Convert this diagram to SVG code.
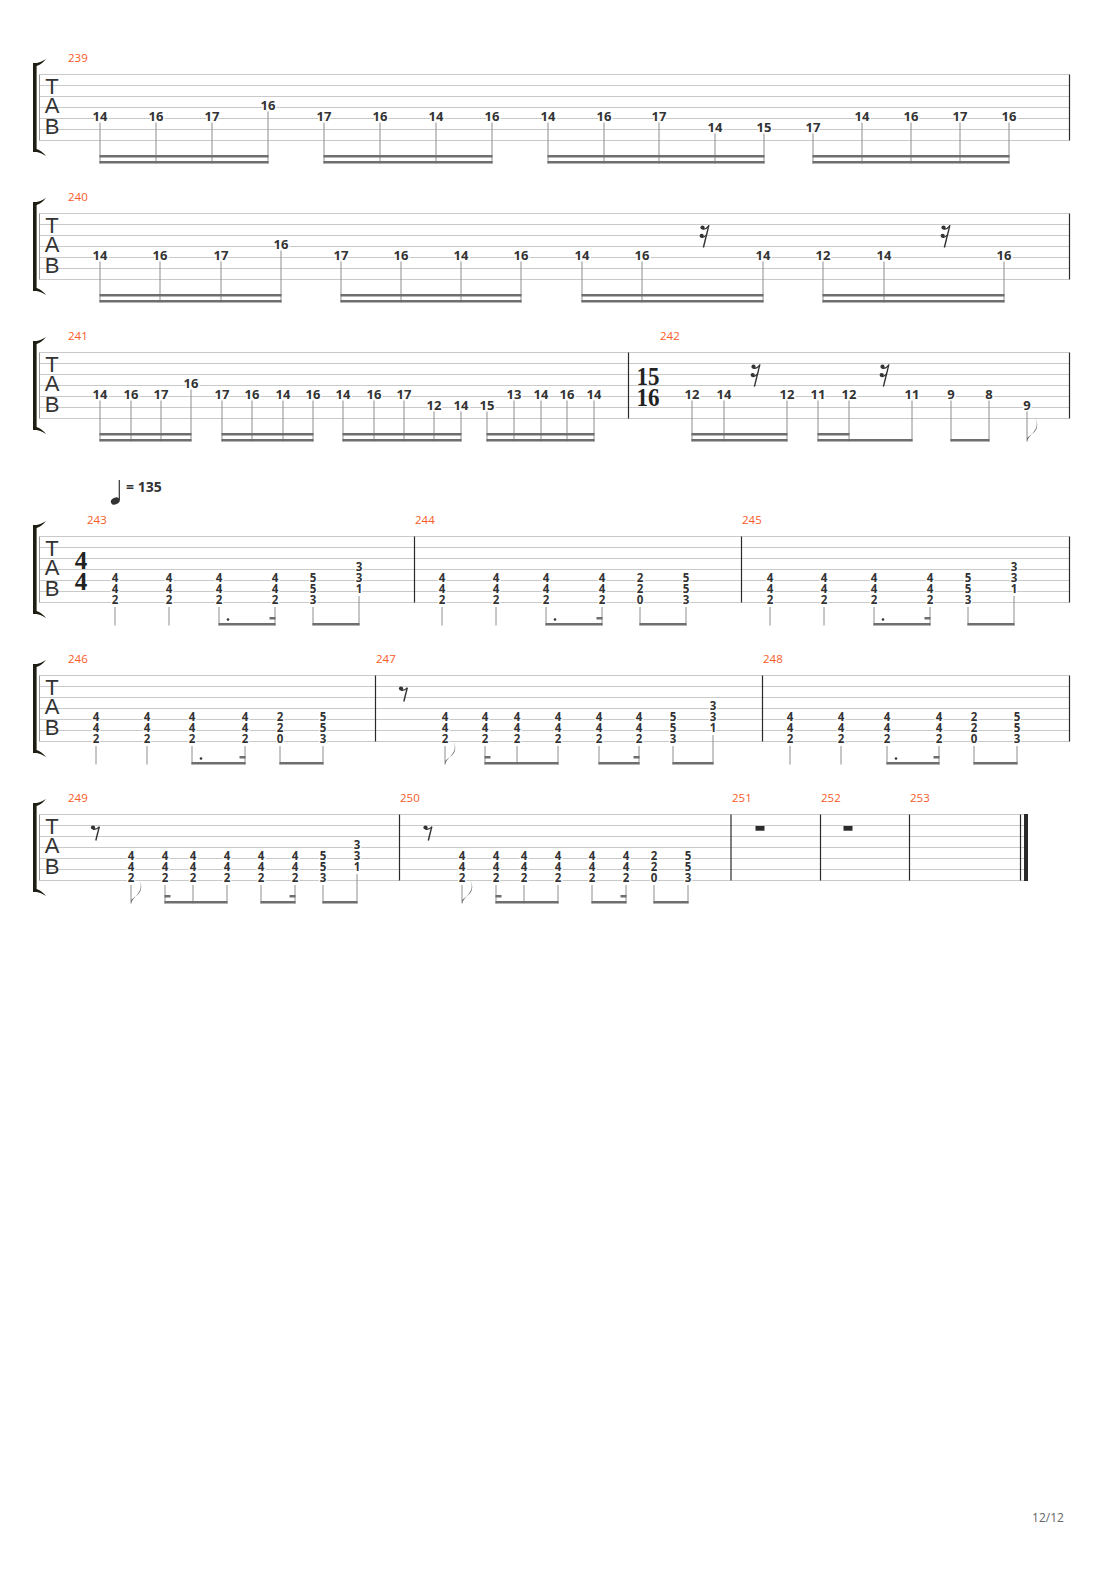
<svg xmlns="http://www.w3.org/2000/svg" xmlns:xlink="http://www.w3.org/1999/xlink" width="1110" height="1570" viewBox="0 0 1110 1570">
<style>
.sl{stroke:#c9c9c9;stroke-width:1;fill:none}
.lb{stroke:#9a9a9a;stroke-width:1}
.bar{stroke:#2a2a2a;stroke-width:1.2}
.st{stroke:#8e8e8e;stroke-width:1;fill:none}
.bm{stroke:#6e6e6e;stroke-width:2.5;fill:none}
.n{font-family:"Open Sans","DejaVu Sans",sans-serif;font-weight:700;font-size:13px;fill:#333;text-anchor:middle;stroke:#fff;stroke-width:3px;paint-order:stroke;stroke-linejoin:round}
.c{font-family:"Open Sans","DejaVu Sans",sans-serif;font-weight:700;font-size:11.5px;fill:#333;text-anchor:middle;stroke:#fff;stroke-width:2.5px;paint-order:stroke;stroke-linejoin:round}
.mn{font-family:"Open Sans","Liberation Sans",sans-serif;font-size:11.5px;fill:#f75b27}
.tab{font-family:"Liberation Sans",sans-serif;font-size:22px;fill:#333;text-anchor:middle}
.ts{font-family:"Liberation Serif",serif;font-weight:700;font-size:25px;fill:#222;text-anchor:middle}
.br{fill:#1e1e14}
.dot{fill:#333}
.pg{font-family:"Open Sans","Liberation Sans",sans-serif;font-size:12px;fill:#666;text-anchor:middle}
</style>
<defs>
<g id="lines"><path class="sl" d="M39.5,0H1069.5M39.5,11H1069.5M39.5,22H1069.5M39.5,33H1069.5M39.5,44H1069.5M39.5,55H1069.5M39.5,66H1069.5"/></g>
<g id="head">
<path class="lb" d="M39.5,0V66"/>
<rect class="br" x="33" y="-11.5" width="3.6" height="89"/>
<path class="br" d="M33,-11.5 L36.6,-11.5 Q40.5,-12 46,-15.5 Q41.5,-10 36.6,-8.5 L33,-8.5 Z"/>
<path class="br" d="M33,77.5 L36.6,77.5 Q40.5,78 46,81.5 Q41.5,76 36.6,74.5 L33,74.5 Z"/>
<text class="tab" x="52" y="19.5">T</text>
<text class="tab" x="52" y="38.5">A</text>
<text class="tab" x="52" y="59">B</text>
</g>
<g id="r8" fill="#333"><circle cx="0" cy="0" r="2.1"/><path d="M0,1.6 Q3.2,2.4 6.3,-0.6" fill="none" stroke="#333" stroke-width="1.3"/><path d="M6.3,-0.8 L2.8,13" stroke="#333" stroke-width="1.4"/></g>
<g id="r16" fill="#333"><circle cx="0" cy="0" r="2.1"/><circle cx="-0.8" cy="8.3" r="2.1"/><path d="M0,1.6 Q3.4,2.2 6.2,-1.6 M-0.8,9.9 Q2,10.4 4.2,7" fill="none" stroke="#333" stroke-width="1.2"/><path d="M6.4,-2.4 L0.9,20" stroke="#333" stroke-width="1.4"/></g>
<path id="flag" d="M0,0 C1.5,-5.5 8,-9 9.5,-15 C10.5,-19 9,-22.5 7,-25 C9.8,-21.5 11,-17.5 9.8,-13.5 C8.3,-8.5 3,-6.5 0,-3.5 Z" fill="#6e6e6e"/>
</defs>
<rect width="1110" height="1570" fill="#fff"/>

<!-- System 1 -->
<g id="system1">
<use href="#lines" transform="translate(0,74.5)"/>
<use href="#head" transform="translate(0,74.5)"/>
<path class="bar" d="M1069.5,74.5V140.5"/>
</g>
<g id="m239">
<text class="mn" x="68" y="61.5">239</text>
<text class="n" x="100" y="121.2">14</text>
<text class="n" x="156" y="121.2">16</text>
<text class="n" x="212" y="121.2">17</text>
<text class="n" x="268" y="110.2">16</text>
<text class="n" x="324" y="121.2">17</text>
<text class="n" x="380" y="121.2">16</text>
<text class="n" x="436" y="121.2">14</text>
<text class="n" x="492" y="121.2">16</text>
<text class="n" x="548" y="121.2">14</text>
<text class="n" x="604" y="121.2">16</text>
<text class="n" x="659" y="121.2">17</text>
<text class="n" x="715" y="132.2">14</text>
<text class="n" x="764" y="132.2">15</text>
<text class="n" x="813" y="132.2">17</text>
<text class="n" x="862" y="121.2">14</text>
<text class="n" x="911" y="121.2">16</text>
<text class="n" x="960" y="121.2">17</text>
<text class="n" x="1009" y="121.2">16</text>
</g>

<!-- System 2 -->
<g id="system2">
<use href="#lines" transform="translate(0,213.5)"/>
<use href="#head" transform="translate(0,213.5)"/>
<path class="bar" d="M1069.5,213.5V279.5"/>
</g>
<g id="m240">
<text class="mn" x="68" y="200.5">240</text>
<text class="n" x="100" y="260.2">14</text>
<text class="n" x="160" y="260.2">16</text>
<text class="n" x="221" y="260.2">17</text>
<text class="n" x="281" y="249.2">16</text>
<text class="n" x="341" y="260.2">17</text>
<text class="n" x="401" y="260.2">16</text>
<text class="n" x="461" y="260.2">14</text>
<text class="n" x="521" y="260.2">16</text>
<text class="n" x="582" y="260.2">14</text>
<text class="n" x="642" y="260.2">16</text>
<text class="n" x="763" y="260.2">14</text>
<text class="n" x="823" y="260.2">12</text>
<text class="n" x="884" y="260.2">14</text>
<text class="n" x="1004" y="260.2">16</text>
<use href="#r16" x="702.5" y="227.5"/>
<use href="#r16" x="943.5" y="227.5"/>
</g>

<!-- System 3 -->
<g id="system3">
<use href="#lines" transform="translate(0,352.5)"/>
<use href="#head" transform="translate(0,352.5)"/>
<path class="bar" d="M628.5,352.5V418.5M1069.5,352.5V418.5"/>
</g>
<g id="m241">
<text class="mn" x="68" y="339.5">241</text>
<text class="n" x="100" y="399.2">14</text>
<text class="n" x="131" y="399.2">16</text>
<text class="n" x="161" y="399.2">17</text>
<text class="n" x="191" y="388.2">16</text>
<text class="n" x="222" y="399.2">17</text>
<text class="n" x="252" y="399.2">16</text>
<text class="n" x="283" y="399.2">14</text>
<text class="n" x="313" y="399.2">16</text>
<text class="n" x="343" y="399.2">14</text>
<text class="n" x="374" y="399.2">16</text>
<text class="n" x="404" y="399.2">17</text>
<text class="n" x="434" y="410.2">12</text>
<text class="n" x="461" y="410.2">14</text>
<text class="n" x="487" y="410.2">15</text>
<text class="n" x="514" y="399.2">13</text>
<text class="n" x="541" y="399.2">14</text>
<text class="n" x="567" y="399.2">16</text>
<text class="n" x="594" y="399.2">14</text>
</g>
<g id="m242">
<text class="mn" x="660" y="339.5">242</text>
<text class="ts" x="648" y="385" textLength="23" lengthAdjust="spacingAndGlyphs">15</text>
<text class="ts" x="648" y="405.5" textLength="23" lengthAdjust="spacingAndGlyphs">16</text>
<text class="n" x="692" y="399.2">12</text>
<text class="n" x="724" y="399.2">14</text>
<text class="n" x="787" y="399.2">12</text>
<text class="n" x="818" y="399.2">11</text>
<text class="n" x="849" y="399.2">12</text>
<text class="n" x="912" y="399.2">11</text>
<text class="n" x="951" y="399.2">9</text>
<text class="n" x="989" y="399.2">8</text>
<text class="n" x="1027" y="410.2">9</text>
<use href="#r16" x="753.5" y="366.7"/>
<use href="#r16" x="882.5" y="366.7"/>
</g>

<!-- Tempo -->
<g id="tempo">
<ellipse cx="115.3" cy="501" rx="4.6" ry="3.4" transform="rotate(-25 115.3 501)" fill="#333"/>
<path d="M119.3,480V500" stroke="#333" stroke-width="1.2"/>
<text x="126" y="492" style="font-family:'Open Sans','DejaVu Sans',sans-serif;font-weight:700;font-size:14px;fill:#333">= 135</text>
</g>

<!-- System 4 -->
<g id="system4">
<use href="#lines" transform="translate(0,536.5)"/>
<use href="#head" transform="translate(0,536.5)"/>
<path class="bar" d="M414.5,536.5V602.5M741.5,536.5V602.5M1069.5,536.5V602.5"/>
</g>
<g id="m243">
<text class="mn" x="87" y="524">243</text>
<text class="ts" x="81" y="569">4</text>
<text class="ts" x="81" y="589.5">4</text>
<text class="c" x="115 115 115" y="581.6 592.6 603.6">442</text>
<text class="c" x="169 169 169" y="581.6 592.6 603.6">442</text>
<text class="c" x="219 219 219" y="581.6 592.6 603.6">442</text>
<text class="c" x="275 275 275" y="581.6 592.6 603.6">442</text>
<text class="c" x="313 313 313" y="581.6 592.6 603.6">553</text>
<text class="c" x="359 359 359" y="570.6 581.6 592.6">331</text>
<circle class="dot" cx="228" cy="619.5" r="1.3"/>
</g>
<g id="m244">
<text class="mn" x="415" y="524">244</text>
<text class="c" x="442 442 442" y="581.6 592.6 603.6">442</text>
<text class="c" x="496 496 496" y="581.6 592.6 603.6">442</text>
<text class="c" x="546 546 546" y="581.6 592.6 603.6">442</text>
<text class="c" x="602 602 602" y="581.6 592.6 603.6">442</text>
<text class="c" x="640 640 640" y="581.6 592.6 603.6">220</text>
<text class="c" x="686 686 686" y="581.6 592.6 603.6">553</text>
<circle class="dot" cx="555" cy="619.5" r="1.3"/>
</g>
<g id="m245">
<text class="mn" x="742" y="524">245</text>
<text class="c" x="770 770 770" y="581.6 592.6 603.6">442</text>
<text class="c" x="824 824 824" y="581.6 592.6 603.6">442</text>
<text class="c" x="874 874 874" y="581.6 592.6 603.6">442</text>
<text class="c" x="930 930 930" y="581.6 592.6 603.6">442</text>
<text class="c" x="968 968 968" y="581.6 592.6 603.6">553</text>
<text class="c" x="1014 1014 1014" y="570.6 581.6 592.6">331</text>
<circle class="dot" cx="883" cy="619.5" r="1.3"/>
</g>

<!-- System 5 -->
<g id="system5">
<use href="#lines" transform="translate(0,675.5)"/>
<use href="#head" transform="translate(0,675.5)"/>
<path class="bar" d="M375.5,675.5V741.5M762.5,675.5V741.5M1069.5,675.5V741.5"/>
</g>
<g id="m246">
<text class="mn" x="68" y="663">246</text>
<text class="c" x="96 96 96" y="720.6 731.6 742.6">442</text>
<text class="c" x="147 147 147" y="720.6 731.6 742.6">442</text>
<text class="c" x="192 192 192" y="720.6 731.6 742.6">442</text>
<text class="c" x="245 245 245" y="720.6 731.6 742.6">442</text>
<text class="c" x="280 280 280" y="720.6 731.6 742.6">220</text>
<text class="c" x="323 323 323" y="720.6 731.6 742.6">553</text>
<circle class="dot" cx="201" cy="758.5" r="1.3"/>
</g>
<g id="m247">
<text class="mn" x="376" y="663">247</text>
<use href="#r8" x="401" y="688.5"/>
<text class="c" x="445 445 445" y="720.6 731.6 742.6">442</text>
<text class="c" x="485 485 485" y="720.6 731.6 742.6">442</text>
<text class="c" x="517 517 517" y="720.6 731.6 742.6">442</text>
<text class="c" x="558 558 558" y="720.6 731.6 742.6">442</text>
<text class="c" x="599 599 599" y="720.6 731.6 742.6">442</text>
<text class="c" x="639 639 639" y="720.6 731.6 742.6">442</text>
<text class="c" x="673 673 673" y="720.6 731.6 742.6">553</text>
<text class="c" x="713 713 713" y="709.6 720.6 731.6">331</text>
</g>
<g id="m248">
<text class="mn" x="763" y="663">248</text>
<text class="c" x="790 790 790" y="720.6 731.6 742.6">442</text>
<text class="c" x="841 841 841" y="720.6 731.6 742.6">442</text>
<text class="c" x="887 887 887" y="720.6 731.6 742.6">442</text>
<text class="c" x="939 939 939" y="720.6 731.6 742.6">442</text>
<text class="c" x="974 974 974" y="720.6 731.6 742.6">220</text>
<text class="c" x="1017 1017 1017" y="720.6 731.6 742.6">553</text>
<circle class="dot" cx="896" cy="758.5" r="1.3"/>
</g>

<!-- System 6 -->
<g id="system6">
<path class="sl" d="M39.5,814.5H1028M39.5,825.5H1028M39.5,836.5H1028M39.5,847.5H1028M39.5,858.5H1028M39.5,869.5H1028M39.5,880.5H1028"/>
<use href="#head" transform="translate(0,814.5)"/>
<path class="bar" d="M399.5,814.5V880.5M731,814.5V880.5M820.5,814.5V880.5M909.5,814.5V880.5M1020.5,814.5V880.5"/>
<rect x="1024" y="814" width="4" height="67" fill="#2a2a2a"/>
</g>
<g id="m249">
<text class="mn" x="68" y="802">249</text>
<use href="#r8" x="93" y="827.5"/>
<text class="c" x="131 131 131" y="859.6 870.6 881.6">442</text>
<text class="c" x="165 165 165" y="859.6 870.6 881.6">442</text>
<text class="c" x="193 193 193" y="859.6 870.6 881.6">442</text>
<text class="c" x="227 227 227" y="859.6 870.6 881.6">442</text>
<text class="c" x="261 261 261" y="859.6 870.6 881.6">442</text>
<text class="c" x="295 295 295" y="859.6 870.6 881.6">442</text>
<text class="c" x="323 323 323" y="859.6 870.6 881.6">553</text>
<text class="c" x="357 357 357" y="848.6 859.6 870.6">331</text>
</g>
<g id="m250">
<text class="mn" x="400" y="802">250</text>
<use href="#r8" x="425.5" y="827.5"/>
<text class="c" x="462 462 462" y="859.6 870.6 881.6">442</text>
<text class="c" x="496 496 496" y="859.6 870.6 881.6">442</text>
<text class="c" x="524 524 524" y="859.6 870.6 881.6">442</text>
<text class="c" x="558 558 558" y="859.6 870.6 881.6">442</text>
<text class="c" x="592 592 592" y="859.6 870.6 881.6">442</text>
<text class="c" x="626 626 626" y="859.6 870.6 881.6">442</text>
<text class="c" x="654 654 654" y="859.6 870.6 881.6">220</text>
<text class="c" x="688 688 688" y="859.6 870.6 881.6">553</text>
</g>
<g id="m251">
<text class="mn" x="732" y="802">251</text>
<rect x="755.5" y="826" width="9" height="4.7" fill="#2a2a2a"/>
</g>
<g id="m252">
<text class="mn" x="821" y="802">252</text>
<rect x="843.5" y="826" width="9" height="4.7" fill="#2a2a2a"/>
</g>
<g id="m253">
<text class="mn" x="910" y="802">253</text>
</g>

<!-- Connectors: stems, beams, flags -->
<g id="connectors">
<path class="st" d="M100,122.5V163.5M156,122.5V163.5M212,122.5V163.5M268,111.5V163.5M324,122.5V163.5M380,122.5V163.5M436,122.5V163.5M492,122.5V163.5M548,122.5V163.5M604,122.5V163.5M659,122.5V163.5M715,133.5V163.5M764,133.5V163.5M813,133.5V163.5M862,122.5V163.5M911,122.5V163.5M960,122.5V163.5M1009,122.5V163.5"/>
<path class="bm" d="M99.5,162.3H268.5M99.5,156.3H268.5M323.5,162.3H492.5M323.5,156.3H492.5M547.5,162.3H764.5M547.5,156.3H764.5M812.5,162.3H1009.5M812.5,156.3H1009.5"/>

<path class="st" d="M100,261.5V302.5M160,261.5V302.5M221,261.5V302.5M281,250.5V302.5M341,261.5V302.5M401,261.5V302.5M461,261.5V302.5M521,261.5V302.5M582,261.5V302.5M642,261.5V302.5M763,261.5V302.5M823,261.5V302.5M884,261.5V302.5M1004,261.5V302.5"/>
<path class="bm" d="M99.5,301.3H281.5M99.5,295.3H281.5M340.5,301.3H521.5M340.5,295.3H521.5M581.5,301.3H763.5M581.5,295.3H763.5M822.5,301.3H1004.5M822.5,295.3H1004.5"/>

<path class="st" d="M100,400.5V441.5M131,400.5V441.5M161,400.5V441.5M191,389.5V441.5M222,400.5V441.5M252,400.5V441.5M283,400.5V441.5M313,400.5V441.5M343,400.5V441.5M374,400.5V441.5M404,400.5V441.5M434,411.5V441.5M461,411.5V441.5M487,411.5V441.5M514,400.5V441.5M541,400.5V441.5M567,400.5V441.5M594,400.5V441.5M692,400.5V441.5M724,400.5V441.5M787,400.5V441.5M818,400.5V441.5M849,400.5V441.5M912,400.5V441.5M951,400.5V441.5M989,400.5V441.5M1027,411.5V441.5"/>
<path class="bm" d="M99.5,440.3H191.5M99.5,434.3H191.5M221.5,440.3H313.5M221.5,434.3H313.5M342.5,440.3H461.5M342.5,434.3H461.5M486.5,440.3H594.5M486.5,434.3H594.5M691.5,440.3H787.5M691.5,434.3H787.5M817.5,440.3H912.5M817.5,434.3H849.5M950.5,440.3H989.5"/>
<use href="#flag" x="1027" y="441.5"/>

<path class="st" d="M115,607V625.5M169,607V625.5M219,607V625.5M275,607V625.5M313,607V625.5M359,596V625.5M442,607V625.5M496,607V625.5M546,607V625.5M602,607V625.5M640,607V625.5M686,607V625.5M770,607V625.5M824,607V625.5M874,607V625.5M930,607V625.5M968,607V625.5M1014,596V625.5"/>
<path class="bm" d="M218.5,624.3H275.5M269.5,618.3H275.5M312.5,624.3H359.5M545.5,624.3H602.5M596.5,618.3H602.5M639.5,624.3H686.5M873.5,624.3H930.5M924.5,618.3H930.5M967.5,624.3H1014.5"/>

<path class="st" d="M96,746V764.5M147,746V764.5M192,746V764.5M245,746V764.5M280,746V764.5M323,746V764.5M445,746V764.5M485,746V764.5M517,746V764.5M558,746V764.5M599,746V764.5M639,746V764.5M673,746V764.5M713,735V764.5M790,746V764.5M841,746V764.5M887,746V764.5M939,746V764.5M974,746V764.5M1017,746V764.5"/>
<path class="bm" d="M191.5,763.3H245.5M239.5,757.3H245.5M279.5,763.3H323.5M484.5,763.3H558.5M484.5,757.3H490.5M598.5,763.3H639.5M633.5,757.3H639.5M672.5,763.3H713.5M886.5,763.3H939.5M933.5,757.3H939.5M973.5,763.3H1017.5"/>
<use href="#flag" x="445" y="764.5"/>

<path class="st" d="M131,885V903.5M165,885V903.5M193,885V903.5M227,885V903.5M261,885V903.5M295,885V903.5M323,885V903.5M357,874V903.5M462,885V903.5M496,885V903.5M524,885V903.5M558,885V903.5M592,885V903.5M626,885V903.5M654,885V903.5M688,885V903.5"/>
<path class="bm" d="M164.5,902.3H227.5M164.5,896.3H170.5M260.5,902.3H295.5M289.5,896.3H295.5M322.5,902.3H357.5M495.5,902.3H558.5M495.5,896.3H501.5M591.5,902.3H626.5M620.5,896.3H626.5M653.5,902.3H688.5"/>
<use href="#flag" x="131" y="903.5"/>
<use href="#flag" x="462" y="903.5"/>
</g>

<text class="pg" x="1048" y="1522">12/12</text>
</svg>
